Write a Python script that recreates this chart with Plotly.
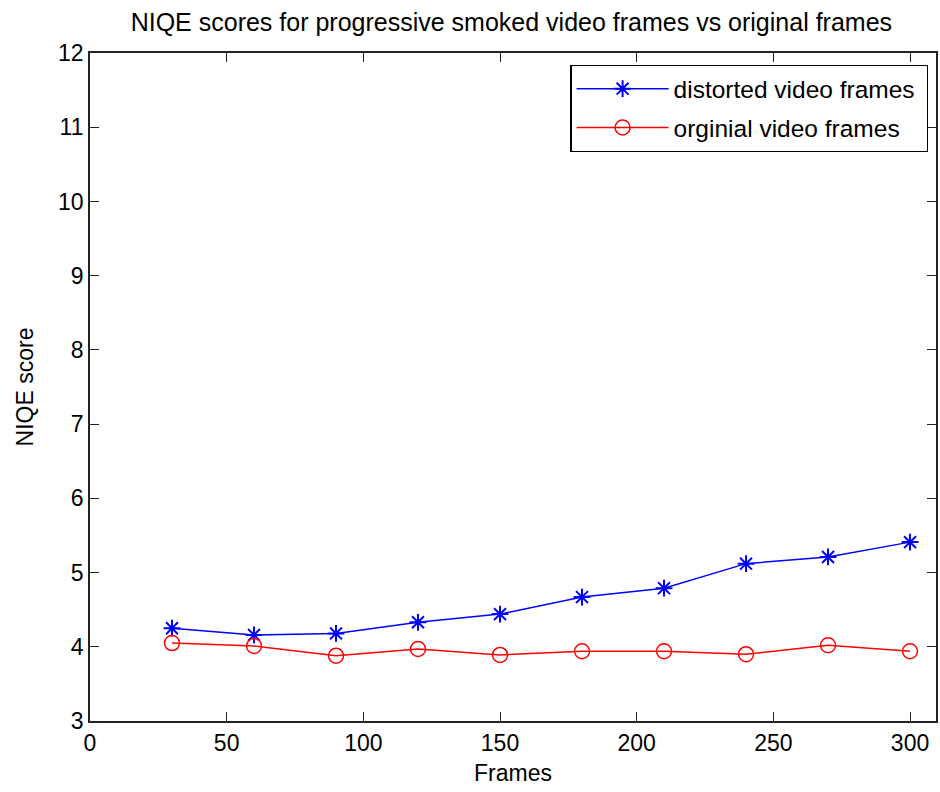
import plotly.graph_objects as go

# Frame indices sampled every 30 frames
frames = [30, 60, 90, 120, 150, 180, 210, 240, 270, 300]

# NIQE scores per sampled frame
distorted_scores = [4.25, 4.16, 4.18, 4.33, 4.44, 4.67, 4.79, 5.12, 5.21, 5.41]
original_scores = [4.05, 4.01, 3.88, 3.97, 3.89, 3.94, 3.94, 3.90, 4.02, 3.94]

x_ticks = [0, 50, 100, 150, 200, 250, 300]
y_ticks = [3, 4, 5, 6, 7, 8, 9, 10, 11, 12]

FONT = "Liberation Sans, Arial, sans-serif"
PAD = "\u00a0"  # extra right padding inside the legend box

fig = go.Figure()
fig.add_trace(go.Scatter(
    x=frames, y=distorted_scores, mode="lines+markers",
    name="distorted video frames" + PAD, legendgroup="a",
    line=dict(color="#0000ff", width=1.5),
    marker=dict(symbol="asterisk-open", size=14, color="#0000ff",
                line=dict(color="#0000ff", width=2)),
))
fig.add_trace(go.Scatter(
    x=frames, y=original_scores, mode="lines+markers",
    name="orginial video frames" + PAD, legendgroup="b",
    line=dict(color="#ff0000", width=1.5),
    marker=dict(symbol="circle-open", size=15, color="#ff0000",
                line=dict(color="#ff0000", width=1.5)),
))

axis_common = dict(
    showgrid=False, zeroline=False, showline=True, mirror="ticks",
    linecolor="#222222", linewidth=1.8, ticks="inside", ticklen=9,
    tickwidth=1.3, tickcolor="#222222",
    tickfont=dict(family=FONT, size=23, color="#000000"),
)

fig.update_layout(
    width=940, height=792,
    margin=dict(l=90, r=2, t=53, b=71),
    paper_bgcolor="white", plot_bgcolor="white",
    font=dict(family=FONT, size=23, color="#000000"),
    title=dict(
        text="NIQE scores for progressive smoked video frames vs original frames",
        x=0.544, xref="container", xanchor="center",
        y=1 - 22 / 792, yref="container", yanchor="middle",
        font=dict(family=FONT, size=25, color="#000000"),
    ),
    xaxis=dict(axis_common, range=[0, 309.5], tickvals=x_ticks,
               title=dict(text="Frames", standoff=10,
                          font=dict(family=FONT, size=23))),
    yaxis=dict(axis_common, range=[3, 12], tickvals=y_ticks,
               title=dict(text="NIQE score", standoff=18,
                          font=dict(family=FONT, size=23))),
    legend=dict(
        x=0.991, xanchor="right", y=0.982, yanchor="top",
        bgcolor="white", bordercolor="#000000", borderwidth=1.2,
        font=dict(family=FONT, size=24.5, color="#000000"),
        itemwidth=92, tracegroupgap=4,
    ),
)

fig.write_html("out.html")
